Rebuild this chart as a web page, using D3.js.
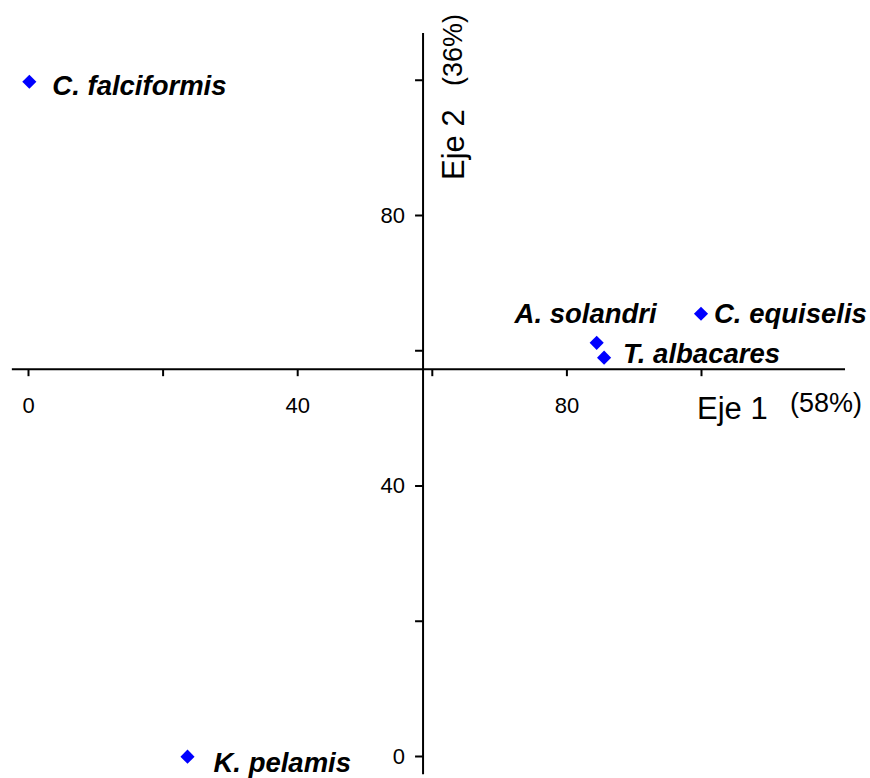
<!DOCTYPE html>
<html>
<head>
<meta charset="utf-8">
<script src="https://cdn.jsdelivr.net/npm/d3@7"></script>
<style>
  body { margin: 0; background: #fff; }
  svg { display: block; }
  .tick text { font-family: 'Liberation Sans', Arial, Helvetica, sans-serif; font-size: 22px; }
</style>
</head>
<body>
<svg id="chart" width="870" height="778"></svg>
<script>
// Species scores on the first two ordination axes
const species = ["C. falciformis", "K. pelamis", "A. solandri", "T. albacares", "C. equiselis"];
const eje1 = [0.2, 23.7, 84.5, 85.6, 100.0];
const eje2 = [99.7, -0.1, 61.1, 58.9, 65.4];

// Tick marks and their labels (only every other tick is labelled)
const tickValues = [0, 20, 40, 60, 80, 100];
const tickLabels = ["0", "", "40", "", "80", ""];

// Axis titles and explained variance
const axisTitles = ["Eje 1", "Eje 2"];
const varianceLabels = ["(58%)", "(36%)"];

// Where the axes cross and how far each one reaches
const crossAt = { x: 58.7, y: 57.2 };
const xExtent = [-2.4, 121.4];
const yExtent = [-2.7, 106.9];

const svg = d3.select("#chart");
const x = d3.scaleLinear().domain([0, 100]).range([28, 701]);
const y = d3.scaleLinear().domain([0, 100]).range([756, 79.75]);

const sans = "'Liberation Sans', Arial, Helvetica, sans-serif";

// Horizontal axis
const gx = svg.append("g")
  .attr("transform", `translate(0,${y(crossAt.y)})`)
  .call(d3.axisBottom(x)
    .tickValues(tickValues)
    .tickSize(7)
    .tickSizeOuter(0)
    .tickFormat((d, i) => tickLabels[i]));
gx.attr("font-size", 22).attr("font-family", sans);
gx.select(".domain").remove();
gx.append("line")
  .attr("x1", x(xExtent[0])).attr("x2", x(xExtent[1]))
  .attr("stroke", "#000").attr("stroke-width", 2);
gx.selectAll(".tick line").attr("stroke", "#000").attr("stroke-width", 2);
gx.selectAll(".tick text")
  .attr("y", 28)
  .attr("dy", "0.71em")
  .attr("fill", "#000")
  .attr("font-size", 22);

// Vertical axis
const gy = svg.append("g")
  .attr("transform", `translate(${x(crossAt.x)},0)`)
  .call(d3.axisLeft(y)
    .tickValues(tickValues)
    .tickSize(8)
    .tickPadding(10)
    .tickSizeOuter(0)
    .tickFormat((d, i) => tickLabels[i]));
gy.attr("font-size", 22).attr("font-family", sans);
gy.select(".domain").remove();
gy.append("line")
  .attr("y1", y(yExtent[0])).attr("y2", y(yExtent[1]))
  .attr("stroke", "#000").attr("stroke-width", 2);
gy.selectAll(".tick line").attr("stroke", "#000").attr("stroke-width", 2);
gy.selectAll(".tick text")
  .attr("fill", "#000")
  .attr("font-size", 22);

// Axis titles
svg.append("text")
  .attr("x", 697).attr("y", 419)
  .style("font-family", sans).style("font-size", "31px")
  .text(axisTitles[0]);
svg.append("text")
  .attr("x", 790).attr("y", 412)
  .style("font-family", sans).style("font-size", "27px")
  .text(varianceLabels[0]);
svg.append("text")
  .attr("transform", "translate(464,180) rotate(-90)")
  .style("font-family", sans).style("font-size", "31px")
  .text(axisTitles[1]);
svg.append("text")
  .attr("transform", "translate(462,86) rotate(-90)")
  .style("font-family", sans).style("font-size", "27px")
  .text(varianceLabels[1]);

// Points
const points = species.map((name, i) => ({ name, e1: eje1[i], e2: eje2[i] }));
const diamond = d3.symbol().type(d3.symbolSquare).size(100);

svg.append("g").selectAll("path")
  .data(points)
  .join("path")
  .attr("d", diamond)
  .attr("transform", d => `translate(${x(d.e1)},${y(d.e2)}) rotate(45)`)
  .attr("fill", "#0000ff");

// Species names, offset from their markers
const labelOffset = {
  "C. falciformis": { dx: 23, dy: 13, anchor: "start" },
  "K. pelamis": { dx: 26, dy: 15, anchor: "start" },
  "A. solandri": { dx: 60, dy: -20, anchor: "end" },
  "T. albacares": { dx: 19, dy: 5, anchor: "start" },
  "C. equiselis": { dx: 13, dy: 9, anchor: "start" }
};

svg.append("g").selectAll("text")
  .data(points)
  .join("text")
  .attr("x", d => x(d.e1) + labelOffset[d.name].dx)
  .attr("y", d => y(d.e2) + labelOffset[d.name].dy)
  .attr("text-anchor", d => labelOffset[d.name].anchor)
  .style("font-family", sans)
  .style("font-size", "27.5px")
  .style("font-weight", "bold")
  .style("font-style", "italic")
  .text(d => d.name);
</script>
</body>
</html>
